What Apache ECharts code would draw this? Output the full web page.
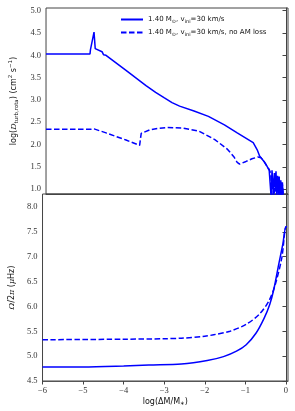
<!DOCTYPE html>
<html><head><meta charset="utf-8">
<script src="https://cdn.jsdelivr.net/npm/echarts@6/dist/echarts.min.js"></script>
<style>html,body{margin:0;padding:0;background:#fff}#c{width:295px;height:411px}</style>
</head><body><div id="c"></div>
<script>
// ---- data ----
const xTicks = [-6, -5, -4, -3, -2, -1, 0];
const topYTicks = [1.0, 1.5, 2.0, 2.5, 3.0, 3.5, 4.0, 4.5, 5.0];
const botYTicks = [4.5, 5.0, 5.5, 6.0, 6.5, 7.0, 7.5, 8.0];

const topSolidX = [-6, -4.9, -4.89, -4.84, -4.80, -4.79, -4.77, -4.72, -4.60, -4.56, -4.50, -4.46, -4.00, -3.50, -3.26, -3.05, -2.85, -2.66, -2.30, -1.94, -1.54, -1.22, -0.82, -0.72, -0.66, -0.55, -0.48, -0.42, -0.39, -0.37, -0.35, -0.33, -0.31, -0.29, -0.27, -0.25, -0.23, -0.21, -0.19, -0.17, -0.15, -0.13, -0.11, -0.09, -0.07, -0.05];
const topSolidY = [4.03, 4.03, 4.12, 4.14, 4.52, 4.40, 4.15, 4.12, 4.08, 4.01, 4.00, 3.97, 3.66, 3.32, 3.17, 3.05, 2.94, 2.86, 2.75, 2.63, 2.44, 2.26, 2.04, 1.88, 1.74, 1.62, 1.52, 1.42, 1.38, 0.80, 1.42, 1.20, 0.80, 1.36, 1.05, 1.40, 0.80, 1.30, 0.95, 1.28, 0.80, 1.20, 0.85, 1.15, 0.80, 0.80];

const topDashX = [-6, -4.9, -4.86, -4.80, -4.50, -4.00, -3.66, -3.64, -3.62, -3.40, -3.20, -2.98, -2.58, -2.18, -1.78, -1.46, -1.30, -1.22, -1.16, -1.00, -0.85, -0.70, -0.62, -0.55, -0.48, -0.42, -0.38, -0.36, -0.34, -0.30, -0.27, -0.24, -0.21, -0.18, -0.15, -0.12, -0.09, -0.06];
const topDashY = [2.34, 2.34, 2.37, 2.35, 2.26, 2.10, 1.98, 1.96, 2.25, 2.33, 2.36, 2.38, 2.37, 2.30, 2.11, 1.89, 1.72, 1.60, 1.56, 1.62, 1.68, 1.72, 1.70, 1.62, 1.52, 1.44, 1.35, 0.80, 1.30, 0.80, 1.25, 0.80, 1.20, 0.80, 1.15, 0.80, 1.10, 0.80];

const botSolidX = [-6, -5, -4, -3.38, -2.58, -1.94, -1.54, -1.22, -0.98, -0.74, -0.54, -0.40, -0.30, -0.18, -0.08, 0.0, 0.02];
const botSolidY = [4.78, 4.78, 4.80, 4.82, 4.84, 4.91, 4.99, 5.10, 5.23, 5.46, 5.76, 6.04, 6.34, 6.84, 7.24, 7.60, 7.60];

const botDashX = [-6, -4, -3, -2.58, -2.0, -1.78, -1.38, -0.98, -0.66, -0.42, -0.26, -0.10, 0.0, 0.02];
const botDashY = [5.33, 5.34, 5.35, 5.36, 5.40, 5.43, 5.50, 5.64, 5.84, 6.11, 6.45, 6.99, 7.60, 7.60];

const legendNames = ['1.40 M⊙, vini=30 km/s', '1.40 M⊙, vini=30 km/s, no AM loss'];

// ---- chart ----
const pairs = (xs, ys) => xs.map((x, i) => [x, ys[i]]);
const blue = '#0000ff';
const tickFont = {fontFamily: 'Liberation Serif', fontSize: 8.5, color: '#333'};
const minus = v => String(v).replace('-', '\u2212');

const chart = echarts.init(document.getElementById('c'), null, {renderer: 'canvas'});
const frame = '#444';

function yAxis(gi, min, max, ticks, name) {
  return {
    type: 'value', gridIndex: gi, min: min, max: max,
    splitLine: {show: false},
    axisLine: {show: true, lineStyle: {color: frame, width: 1}},
    axisTick: {show: true, length: 3.5, customValues: ticks, lineStyle: {color: frame}},
    axisLabel: Object.assign({customValues: ticks, margin: 5, formatter: v => v.toFixed(1)}, tickFont),
    name: name, nameLocation: 'middle', nameRotate: 90, nameGap: 19,
    nameTextStyle: {
      fontFamily: 'DejaVu Sans', fontSize: 8, color: '#111',
      rich: {
        n: {fontFamily: 'DejaVu Sans', fontSize: 8, color: '#111'},
        i: {fontFamily: 'DejaVu Serif', fontStyle: 'italic', fontSize: 8, color: '#111'},
        s: {fontFamily: 'DejaVu Sans', fontSize: 5.5, color: '#111', padding: [5, 0, 0, 0]},
        p: {fontFamily: 'DejaVu Sans', fontSize: 5.5, color: '#111', padding: [0, 0, 6, 0]}
      }
    }
  };
}

const option = {
  animation: false,
  backgroundColor: '#fff',
  grid: [
    {left: 36, right: 7, top: 8, height: 186, show: true, borderColor: frame, borderWidth: 1},
    {left: 36, right: 7, top: 194, height: 187, show: true, borderColor: frame, borderWidth: 1}
  ],
  xAxis: [
    {type: 'value', gridIndex: 0, min: -6, max: 0.05, splitLine: {show: false},
     axisLine: {show: true, lineStyle: {color: frame}}, axisTick: {show: false}, axisLabel: {show: false}},
    {type: 'value', gridIndex: 1, min: -6, max: 0.05, splitLine: {show: false},
     axisLine: {show: true, lineStyle: {color: '#555', width: 1}},
     axisTick: {show: true, length: 3.5, customValues: xTicks, lineStyle: {color: frame}},
     axisLabel: Object.assign({customValues: xTicks, margin: 5, formatter: minus}, tickFont),
     name: '{n|log(ΔM/M}{s|∗}{n|)}', nameLocation: 'middle', nameGap: 15,
     nameTextStyle: {rich: {
       n: {fontFamily: 'DejaVu Sans', fontSize: 8, color: '#111'},
       s: {fontFamily: 'DejaVu Sans', fontSize: 5.5, color: '#111', padding: [5, 0, 0, 0]}
     }}}
  ],
  yAxis: [
    yAxis(0, 0.89, 5.06, topYTicks, '{n|log(}{i|D}{s|turb,rota}{n|) (cm}{p|2}{n| s}{p|−1}{n|)}'),
    yAxis(1, 4.5, 8.26, botYTicks, '{i|Ω}{n|/2}{i|π} {n|(}{i|μ}{n|Hz)}')
  ],
  legend: {
    left: 120, top: 15, orient: 'vertical', padding: 0,
    itemWidth: 22, itemHeight: 9, itemGap: 4,
    itemStyle: {opacity: 0, borderWidth: 0},
    data: legendNames,
    formatter: function (name) {
      const base = '1.40 M{s|⊙}, v{s|ini}=30 km/s';
      return name.indexOf('no AM') >= 0 ? base + ', no AM loss' : base;
    },
    textStyle: {
      fontFamily: 'DejaVu Sans', fontSize: 7, color: '#111', lineHeight: 9, padding: [0, 0, 0, 0],
      rich: {s: {fontFamily: 'DejaVu Sans', fontSize: 5, color: '#111', padding: [4, 0, 0, 0]}}
    }
  },
  series: [
    {name: legendNames[0], type: 'line', xAxisIndex: 0, yAxisIndex: 0, data: pairs(topSolidX, topSolidY),
     symbol: 'none', lineStyle: {color: blue, width: 1.5}, itemStyle: {color: blue}, clip: true},
    {name: legendNames[1], type: 'line', xAxisIndex: 0, yAxisIndex: 0, data: pairs(topDashX, topDashY),
     symbol: 'none', lineStyle: {color: blue, width: 1.5, type: [5.5, 2.5]}, itemStyle: {color: blue}, clip: true},
    {name: legendNames[0], type: 'line', xAxisIndex: 1, yAxisIndex: 1, data: pairs(botSolidX, botSolidY),
     symbol: 'none', smooth: 0.3, lineStyle: {color: blue, width: 1.5}, itemStyle: {color: blue}, clip: true},
    {name: legendNames[1], type: 'line', xAxisIndex: 1, yAxisIndex: 1, data: pairs(botDashX, botDashY),
     symbol: 'none', smooth: 0.3, lineStyle: {color: blue, width: 1.5, type: [5.5, 2.5]}, itemStyle: {color: blue}, clip: true}
  ]
};
chart.setOption(option);
</script>
</body></html>
